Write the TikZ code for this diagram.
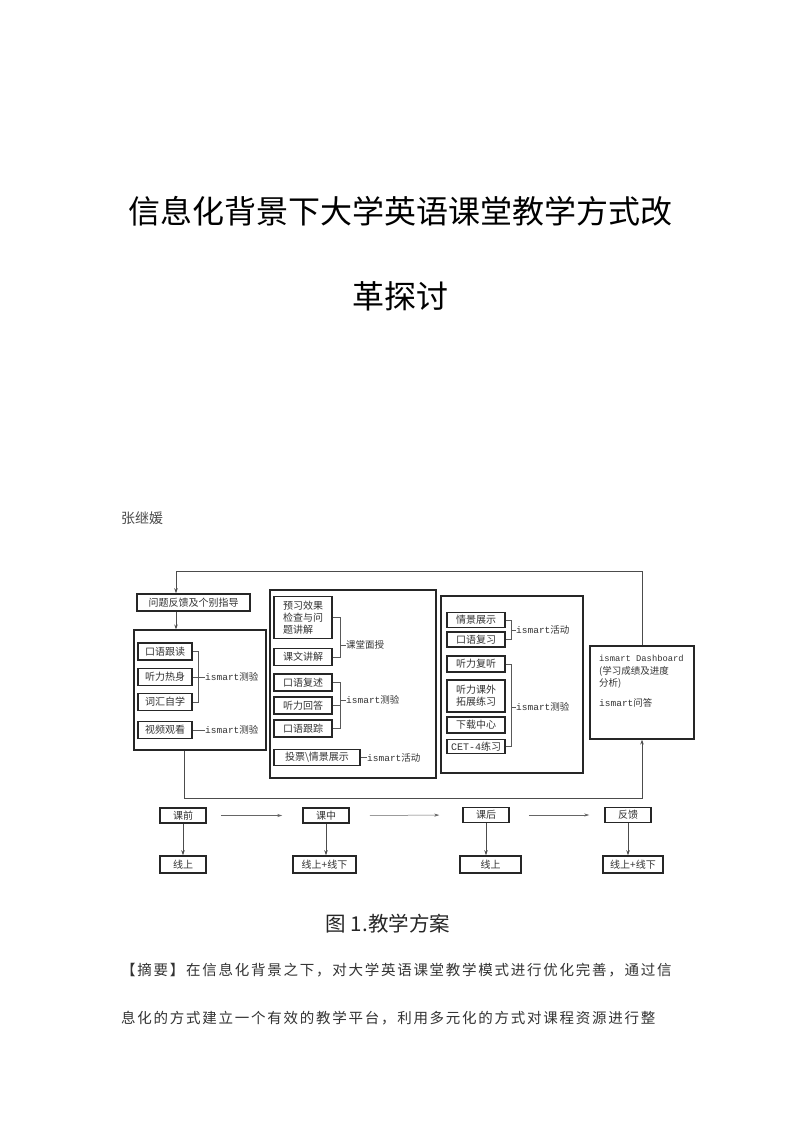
\documentclass[tikz,border=0pt]{standalone}
\usepackage{fontspec}
\newfontfamily\cjk{Noto Sans CJK SC}
\newfontfamily\cjksp[LetterSpace=12]{Noto Sans CJK SC}
\newfontfamily\mono{Liberation Mono}
\usetikzlibrary{arrows.meta}
\begin{document}
\begin{tikzpicture}[x=1pt,y=-1pt,
  sbox/.style={draw=black!85,line width=1.5pt,inner sep=0pt,minimum height=17pt,
    font=\cjk\fontsize{10}{12}\selectfont,text=black!80,align=center},
  bigbox/.style={draw=black!85,line width=1.2pt,inner sep=0pt},
  lab/.style={anchor=west,inner sep=0pt,text=black!80,font=\cjk\fontsize{9.5}{11}\selectfont},
  br/.style={draw=black!65,line width=0.6pt},
  conn/.style={draw=black!70,line width=0.8pt},
  arr/.style={-{Stealth[length=5pt,width=3.5pt]}},
  harr/.style={draw=black!60,line width=0.5pt,-{Stealth[length=5pt,width=3pt]}}
]
\useasboundingbox[fill=white] (0,0) rectangle (800,1131);

% title and author
\node[font=\cjk\fontsize{32}{36}\selectfont] (t1) at (400,211) {信息化背景下大学英语课堂教学方式改};
\node[font=\cjk\fontsize{32}{36}\selectfont] (t2) at (400,296) {革探讨};
\node[anchor=west,inner sep=0pt,text=black!70,font=\cjk\fontsize{14}{16}\selectfont] (au) at (121,518) {张继媛};

% column 1
\node[sbox,minimum width=113pt] (Q) at (193.5,602.5) {问题反馈及个别指导};
\node[bigbox,minimum width=132pt,minimum height=120pt] (B1) at (200,690) {};
\node[sbox,minimum width=54pt] (a1) at (165,651.5) {口语跟读};
\node[sbox,minimum width=54pt] (a2) at (165,677) {听力热身};
\node[sbox,minimum width=54pt] (a3) at (165,702) {词汇自学};
\node[sbox,minimum width=54pt] (a4) at (165,730) {视频观看};
\node[lab] (la1) at (205,677) {{\mono ismart}测验};
\node[lab] (la2) at (205,730) {{\mono ismart}测验};
\draw[br] (a1.east) -- ++(6,0) |- (a3.east);
\draw[br] (a2.east) -- (la1.west);
\draw[br] (a4.east) -- (la2.west);

% column 2
\node[bigbox,minimum width=166pt,minimum height=188pt] (B2) at (353,684) {};
\node[sbox,minimum width=58pt,minimum height=42pt,align=left] (b1) at (303,617.5) {预习效果\\检查与问\\题讲解};
\node[sbox,minimum width=58pt] (b2) at (303,657) {课文讲解};
\node[sbox,minimum width=58pt] (b3) at (303,682.5) {口语复述};
\node[sbox,minimum width=58pt] (b4) at (303,705.5) {听力回答};
\node[sbox,minimum width=58pt] (b5) at (303,728.5) {口语跟踪};
\node[sbox,minimum width=86pt,minimum height=16pt] (b6) at (317,757.5) {投票\textbackslash 情景展示};
\node[lab] (lb1) at (346,645) {课堂面授};
\node[lab] (lb2) at (346,700) {{\mono ismart}测验};
\node[lab] (lb3) at (367,757.5) {{\mono ismart}活动};
\draw[br] (b1.east) -- (340,617.5) -- (340,657) -- (b2.east);
\draw[br] (340,645) -- (lb1.west);
\draw[br] (b3.east) -- (340,682.5) -- (340,728.5) -- (b5.east);
\draw[br] (b4.east) -- (340,705.5);
\draw[br] (340,700) -- (lb2.west);
\draw[br] (b6.east) -- (lb3.west);

% column 3
\node[bigbox,minimum width=142pt,minimum height=177pt] (B3) at (512,684.5) {};
\node[sbox,minimum width=58pt,minimum height=15pt] (c1) at (476,620) {情景展示};
\node[sbox,minimum width=58pt,minimum height=15pt] (c2) at (476,639.5) {口语复习};
\node[sbox,minimum width=58pt,minimum height=16pt] (c3) at (476,664) {听力复听};
\node[sbox,minimum width=58pt,minimum height=32pt,align=left] (c4) at (476,696) {听力课外\\拓展练习};
\node[sbox,minimum width=58pt,minimum height=16pt] (c5) at (476,725) {下载中心};
\node[sbox,minimum width=58pt,minimum height=14pt] (c6) at (476,746.5) {{\mono CET-4}练习};
\node[lab] (lc1) at (516,630) {{\mono ismart}活动};
\node[lab] (lc2) at (516,707) {{\mono ismart}测验};
\draw[br] (c1.east) -- (511,620) -- (511,639.5) -- (c2.east);
\draw[br] (511,630) -- (lc1.west);
\draw[br] (c3.east) -- (511,664) -- (511,746.5) -- (c6.east);
\draw[br] (511,707) -- (lc2.west);

% right box
\node[bigbox,minimum width=104pt,minimum height=93pt] (R) at (642,692.5) {};
\node[anchor=north west,inner sep=0pt,align=left,text=black!80,font=\cjk\fontsize{9.5}{12.5}\selectfont] (rt) at (599,655) {{\mono\fontsize{8.8}{12.5}\selectfont ismart Dashboard}\\(学习成绩及进度\\分析)\\[7pt]{\mono ismart}问答};

% feedback loops
\coordinate (top) at (176,571);
\coordinate (bot) at (184,798);
\draw[conn,arr] (R.north) |- (top) -- (top |- Q.north);
\draw[conn,arr] (Q.south -| top) -- (B1.north -| top);
\draw[conn,arr] (B1.south -| bot) -- (bot) -| (R.south);

% bottom row
\node[sbox,minimum width=46pt,minimum height=15pt] (k1) at (183,815.5) {课前};
\node[sbox,minimum width=46pt,minimum height=15pt] (k2) at (326,815.5) {课中};
\node[sbox,minimum width=46pt,minimum height=15pt] (k3) at (486,815) {课后};
\node[sbox,minimum width=46pt,minimum height=15pt] (k4) at (628,815) {反馈};
\node[sbox,minimum width=46pt] (o1) at (183,864.5) {线上};
\node[sbox,minimum width=63pt] (o2) at (324.5,864.5) {线上+线下};
\node[sbox,minimum width=61pt] (o3) at (490.5,864.5) {线上};
\node[sbox,minimum width=60pt] (o4) at (633,864.5) {线上+线下};
\draw[harr,shorten <=14pt,shorten >=20pt] (k1.east) -- (k2.west);
\draw[harr,shorten <=20pt,shorten >=23pt] (k2.east) -- (k3.west);
\draw[harr,shorten <=19pt,shorten >=15pt] (k3.east) -- (k4.west);
\draw[conn,arr] (k1.south) -- (o1.north);
\draw[conn,arr] (k2.south) -- (k2.south |- o2.north);
\draw[conn,arr] (k3.south) -- (k3.south |- o3.north);
\draw[conn,arr] (k4.south) -- (k4.south |- o4.north);

% caption and abstract
\node[font=\cjk\fontsize{20.5}{23}\selectfont,text=black!85] (cap) at (388,924) {图 1.教学方案};
\node[anchor=west,inner sep=0pt,text=black!80,font=\cjksp\fontsize{14.5}{17}\selectfont] (ab1) at (121,970) {【摘要】在信息化背景之下，对大学英语课堂教学模式进行优化完善，通过信};
\node[anchor=west,inner sep=0pt,text=black!80,font=\cjksp\fontsize{14.5}{17}\selectfont] (ab2) at (121,1018) {息化的方式建立一个有效的教学平台，利用多元化的方式对课程资源进行整};
\end{tikzpicture}
\end{document}
